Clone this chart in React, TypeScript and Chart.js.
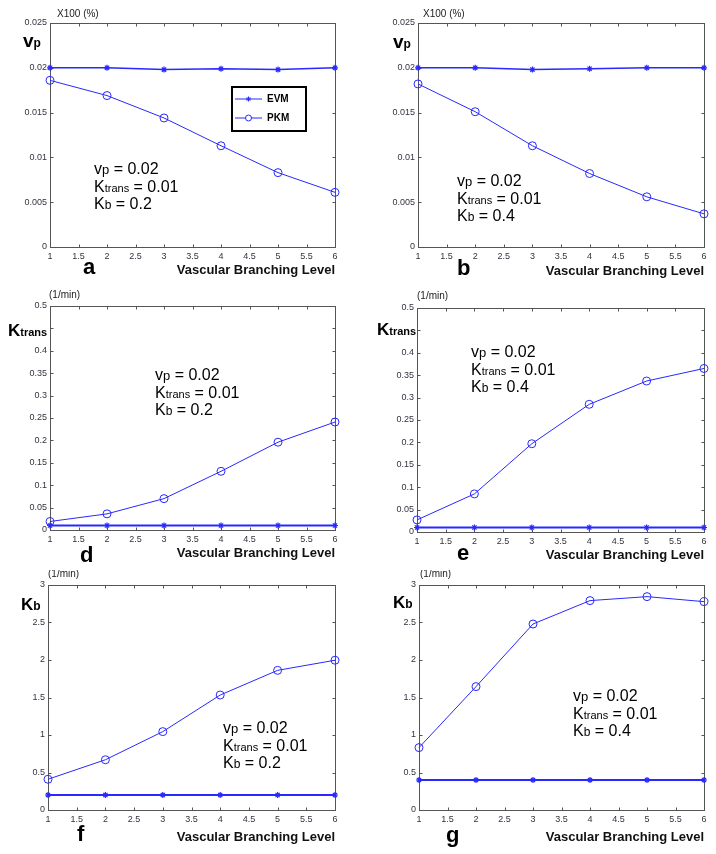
import React, { useEffect, useRef } from "react";
import { Chart, registerables } from "chart.js";

Chart.register(...registerables);

// ---------------- data ----------------
const levels = [1, 2, 3, 4, 5, 6];
const xTickLabels = ["1", "1.5", "2", "2.5", "3", "3.5", "4", "4.5", "5", "5.5", "6"];

const vpTickLabels = ["0", "0.005", "0.01", "0.015", "0.02", "0.025"];
// the 0.45 label is hidden behind the axis name in the original
const ktransTickLabels = ["0", "0.05", "0.1", "0.15", "0.2", "0.25", "0.3", "0.35", "0.4", "", "0.5"];
const kbTickLabels = ["0", "0.5", "1", "1.5", "2", "2.5", "3"];

// panel a (Kb = 0.2) and b (Kb = 0.4): vp
const evmVpA = [0.02, 0.02, 0.0198, 0.0199, 0.0198, 0.02];
const pkmVpA = [0.0186, 0.0169, 0.0144, 0.0113, 0.0083, 0.0061];
const evmVpB = [0.02, 0.02, 0.0198, 0.0199, 0.02, 0.02];
const pkmVpB = [0.0182, 0.0151, 0.0113, 0.0082, 0.0056, 0.0037];

// panel d and e: Ktrans
const evmKtD = [0.01, 0.01, 0.01, 0.01, 0.01, 0.01];
const pkmKtD = [0.019, 0.036, 0.07, 0.131, 0.196, 0.241];
const evmKtE = [0.01, 0.01, 0.01, 0.01, 0.01, 0.01];
const pkmKtE = [0.027, 0.085, 0.197, 0.285, 0.337, 0.365];

// panel f and g: Kb
const evmKbF = [0.2, 0.2, 0.2, 0.2, 0.2, 0.2];
const pkmKbF = [0.41, 0.67, 1.045, 1.533, 1.862, 1.997];
const evmKbG = [0.4, 0.4, 0.4, 0.4, 0.4, 0.4];
const pkmKbG = [0.832, 1.645, 2.48, 2.792, 2.845, 2.778];

const seriesNames = ["EVM", "PKM"];
const xAxisTitle = "Vascular Branching Level";

// ---------------- styling ----------------
const BLUE = "rgb(40,40,255)";
const FRAME = "#555";
const TICK_COLOR = "#333340";
const FONT = "Arial, 'Liberation Sans', Helvetica, sans-serif";

type PanelCfg = {
  key: string;
  evm: number[];
  pkm: number[];
  yMax: number;
  yStep: number;
  yTicks: string[];
  canvas: { l: number; t: number; w: number; h: number };
  area: { l: number; t: number; r: number; b: number };
  titlePad: number;
  unit: { x: number; y: number; text: string };
  ylab: { x: number; y: number; main: string; sub: string };
  letter: { x: number; y: number; text: string };
  note: { x: number; y: number; kb: string };
  legend?: { x: number; y: number; w: number; h: number };
  evmWidth: number;
};

const panels: PanelCfg[] = [
  {
    key: "a", evm: evmVpA, pkm: pkmVpA, yMax: 0.025, yStep: 0.005, yTicks: vpTickLabels,
    canvas: { l: 0, t: 0, w: 358, h: 285 }, area: { l: 50, t: 23, r: 335, b: 247 }, titlePad: 6.7,
    unit: { x: 57, y: 17, text: "X100 (%)" }, ylab: { x: 23, y: 47, main: "v", sub: "p" },
    letter: { x: 83, y: 274, text: "a" }, note: { x: 94, y: 174, kb: "0.2" },
    legend: { x: 232, y: 87, w: 74, h: 44 }, evmWidth: 1.5,
  },
  {
    key: "b", evm: evmVpB, pkm: pkmVpB, yMax: 0.025, yStep: 0.005, yTicks: vpTickLabels,
    canvas: { l: 358, t: 0, w: 358, h: 285 }, area: { l: 418, t: 23, r: 704, b: 247 }, titlePad: 5.7,
    unit: { x: 423, y: 17, text: "X100 (%)" }, ylab: { x: 393, y: 48, main: "v", sub: "p" },
    letter: { x: 457, y: 275, text: "b" }, note: { x: 457, y: 186, kb: "0.4" }, evmWidth: 1.5,
  },
  {
    key: "d", evm: evmKtD, pkm: pkmKtD, yMax: 0.5, yStep: 0.05, yTicks: ktransTickLabels,
    canvas: { l: 0, t: 285, w: 358, h: 285 }, area: { l: 50, t: 306, r: 335, b: 530 }, titlePad: 8.7,
    unit: { x: 49, y: 298, text: "(1/min)" }, ylab: { x: 8, y: 336, main: "K", sub: "trans" },
    letter: { x: 80, y: 562, text: "d" }, note: { x: 155, y: 380, kb: "0.2" }, evmWidth: 1.8,
  },
  {
    key: "e", evm: evmKtE, pkm: pkmKtE, yMax: 0.5, yStep: 0.05, yTicks: ktransTickLabels,
    canvas: { l: 358, t: 285, w: 358, h: 285 }, area: { l: 417, t: 308, r: 704, b: 532 }, titlePad: 6.7,
    unit: { x: 417, y: 299, text: "(1/min)" }, ylab: { x: 377, y: 335, main: "K", sub: "trans" },
    letter: { x: 457, y: 560, text: "e" }, note: { x: 471, y: 357, kb: "0.4" }, evmWidth: 1.8,
  },
  {
    key: "f", evm: evmKbF, pkm: pkmKbF, yMax: 3, yStep: 0.5, yTicks: kbTickLabels,
    canvas: { l: 0, t: 570, w: 358, h: 284 }, area: { l: 48, t: 585, r: 335, b: 810 }, titlePad: 8.7,
    unit: { x: 48, y: 577, text: "(1/min)" }, ylab: { x: 21, y: 610, main: "K", sub: "b" },
    letter: { x: 77, y: 841, text: "f" }, note: { x: 223, y: 733, kb: "0.2" }, evmWidth: 1.8,
  },
  {
    key: "g", evm: evmKbG, pkm: pkmKbG, yMax: 3, yStep: 0.5, yTicks: kbTickLabels,
    canvas: { l: 358, t: 570, w: 358, h: 284 }, area: { l: 419, t: 585, r: 704, b: 810 }, titlePad: 8.7,
    unit: { x: 420, y: 577, text: "(1/min)" }, ylab: { x: 393, y: 608, main: "K", sub: "b" },
    letter: { x: 446, y: 842, text: "g" }, note: { x: 573, y: 701, kb: "0.4" }, evmWidth: 1.8,
  },
];

// ---------------- drawing helpers ----------------
function drawRuns(ctx: CanvasRenderingContext2D, x: number, y: number, runs: { text: string; font: string }[]) {
  let cx = x;
  for (const r of runs) {
    ctx.font = r.font;
    ctx.fillText(r.text, cx, y);
    cx += ctx.measureText(r.text).width;
  }
}

function drawStar(ctx: CanvasRenderingContext2D, x: number, y: number, r: number) {
  ctx.beginPath();
  for (let i = 0; i < 4; i++) {
    const a = (Math.PI / 4) * i;
    ctx.moveTo(x - Math.cos(a) * r, y - Math.sin(a) * r);
    ctx.lineTo(x + Math.cos(a) * r, y + Math.sin(a) * r);
  }
  ctx.stroke();
}

const decorPlugin = {
  id: "decor",
  beforeDatasetsDraw(chart: any) {
    const ctx: CanvasRenderingContext2D = chart.ctx;
    const { left, top, right, bottom } = chart.chartArea;
    const L = Math.round(left) + 0.5, T = Math.round(top) + 0.5, R = Math.round(right) + 0.5, B = Math.round(bottom) + 0.5;
    ctx.save();
    ctx.strokeStyle = FRAME;
    ctx.lineWidth = 1;
    ctx.strokeRect(L, T, R - L, B - T);
    const len = 3;
    ctx.beginPath();
    for (const t of chart.scales.x.ticks) {
      const px = Math.round(chart.scales.x.getPixelForValue(t.value)) + 0.5;
      ctx.moveTo(px, B); ctx.lineTo(px, B - len);
      ctx.moveTo(px, T); ctx.lineTo(px, T + len);
    }
    for (const t of chart.scales.y.ticks) {
      const py = Math.round(chart.scales.y.getPixelForValue(t.value)) + 0.5;
      ctx.moveTo(L, py); ctx.lineTo(L + len, py);
      ctx.moveTo(R, py); ctx.lineTo(R - len, py);
    }
    ctx.stroke();
    ctx.restore();
  },
  afterDatasetsDraw(chart: any, _args: any, opts: any) {
    const p: PanelCfg = opts.panel;
    if (!p) return;
    const ctx: CanvasRenderingContext2D = chart.ctx;
    const ox = p.canvas.l, oy = p.canvas.t;
    ctx.save();
    ctx.textBaseline = "alphabetic";
    ctx.textAlign = "left";
    // unit label
    ctx.font = `10px ${FONT}`;
    ctx.fillStyle = "#222";
    ctx.fillText(p.unit.text, p.unit.x - ox, p.unit.y - oy);
    // y label
    ctx.fillStyle = "#000";
    const subSize = p.ylab.sub === "trans" ? 11 : 12;
    drawRuns(ctx, p.ylab.x - ox, p.ylab.y - oy, [
      { text: p.ylab.main, font: `bold ${p.ylab.main === "v" ? 19 : 17}px ${FONT}` },
      { text: p.ylab.sub, font: `bold ${subSize}px ${FONT}` },
    ]);
    // panel letter
    ctx.font = `bold 22px ${FONT}`;
    ctx.fillText(p.letter.text, p.letter.x - ox, p.letter.y - oy);
    // parameter note
    const nx = p.note.x - ox, ny = p.note.y - oy, ls = 17.5;
    drawRuns(ctx, nx, ny, [
      { text: "v", font: `16px ${FONT}` },
      { text: "p", font: `13px ${FONT}` },
      { text: " = 0.02", font: `16px ${FONT}` },
    ]);
    drawRuns(ctx, nx, ny + ls, [
      { text: "K", font: `16px ${FONT}` },
      { text: "trans", font: `11px ${FONT}` },
      { text: " = 0.01", font: `16px ${FONT}` },
    ]);
    drawRuns(ctx, nx, ny + 2 * ls, [
      { text: "K", font: `16px ${FONT}` },
      { text: "b", font: `12px ${FONT}` },
      { text: " = " + p.note.kb, font: `16px ${FONT}` },
    ]);
    // legend
    if (p.legend) {
      const lg = p.legend;
      const lx = lg.x - ox, ly = lg.y - oy;
      ctx.fillStyle = "#fff";
      ctx.fillRect(lx, ly, lg.w, lg.h);
      ctx.strokeStyle = "#000";
      ctx.lineWidth = 2;
      ctx.strokeRect(lx, ly, lg.w, lg.h);
      const rows = [ly + 12, ly + 31];
      chart.data.datasets.forEach((ds: any, i: number) => {
        const y = rows[i];
        ctx.strokeStyle = ds.borderColor;
        ctx.lineWidth = 1;
        ctx.beginPath();
        ctx.moveTo(lx + 3, y);
        ctx.lineTo(lx + 30, y);
        ctx.stroke();
        const mx = lx + 16.5;
        if (ds.pointStyle === "circle") {
          ctx.fillStyle = "#fff";
          ctx.beginPath();
          ctx.arc(mx, y, 3, 0, Math.PI * 2);
          ctx.fill();
          ctx.stroke();
        } else {
          drawStar(ctx, mx, y, 2.5);
        }
        ctx.fillStyle = "#000";
        ctx.font = `bold 10px ${FONT}`;
        ctx.textBaseline = "middle";
        ctx.fillText(ds.label, lx + 35, y + 0.5);
        ctx.textBaseline = "alphabetic";
      });
    }
    ctx.restore();
  },
};

function Panel({ p }: { p: PanelCfg }) {
  const ref = useRef<HTMLCanvasElement>(null);
  useEffect(() => {
    if (!ref.current) return;
    const yWidth = p.area.l - p.canvas.l;
    const xHeight = p.canvas.t + p.canvas.h - p.area.b;
    const chart = new Chart(ref.current, {
      type: "line",
      data: {
        datasets: [
          {
            label: seriesNames[0],
            data: levels.map((x, i) => ({ x, y: p.evm[i] })),
            borderColor: BLUE,
            backgroundColor: BLUE,
            borderWidth: p.evmWidth,
            pointStyle: "star",
            pointRadius: 3,
            pointBorderWidth: 1.2,
            pointBorderColor: BLUE,
            fill: false,
            tension: 0,
            clip: false as any,
          },
          {
            label: seriesNames[1],
            data: levels.map((x, i) => ({ x, y: p.pkm[i] })),
            borderColor: BLUE,
            backgroundColor: "rgba(0,0,0,0)",
            borderWidth: 1,
            pointStyle: "circle",
            pointRadius: 4,
            pointBorderWidth: 1,
            pointBorderColor: BLUE,
            fill: false,
            tension: 0,
            clip: false as any,
          },
        ],
      },
      options: {
        animation: false,
        responsive: false,
        events: [],
        devicePixelRatio: 1,
        layout: {
          padding: {
            left: 0,
            top: p.area.t - p.canvas.t,
            right: p.canvas.l + p.canvas.w - p.area.r,
            bottom: 0,
          },
        },
        scales: {
          x: {
            type: "linear",
            min: 1,
            max: 6,
            grid: { display: false, drawTicks: false },
            border: { display: false },
            ticks: {
              stepSize: 0.5,
              padding: 4,
              maxRotation: 0,
              autoSkip: false,
              color: TICK_COLOR,
              font: { family: FONT, size: 9 },
              callback: (_v: any, i: number) => xTickLabels[i],
            },
            title: {
              display: true,
              text: xAxisTitle,
              align: "end",
              color: "#111",
              font: { family: FONT, size: 13, weight: "bold" },
              padding: { top: 0, bottom: p.titlePad },
            },
            afterFit: (s: any) => {
              s.height = xHeight;
            },
          },
          y: {
            type: "linear",
            min: 0,
            max: p.yMax,
            grid: { display: false, drawTicks: false },
            border: { display: false },
            ticks: {
              stepSize: p.yStep,
              padding: 3,
              autoSkip: false,
              color: TICK_COLOR,
              font: { family: FONT, size: 9 },
              callback: (_v: any, i: number) => p.yTicks[i],
            },
            afterFit: (s: any) => {
              s.width = yWidth;
            },
          },
        },
        plugins: {
          legend: { display: false },
          tooltip: { enabled: false },
          title: { display: false },
          decor: { panel: p },
        } as any,
      },
      plugins: [decorPlugin as any],
    } as any);
    return () => chart.destroy();
  }, [p]);
  return (
    <canvas
      ref={ref}
      width={p.canvas.w}
      height={p.canvas.h}
      style={{ position: "absolute", left: p.canvas.l, top: p.canvas.t, width: p.canvas.w, height: p.canvas.h }}
    />
  );
}

export default function App() {
  return (
    <div style={{ position: "absolute", left: 0, top: 0, width: 716, height: 854, background: "#fff", overflow: "hidden" }}>
      {panels.map((p) => (
        <Panel key={p.key} p={p} />
      ))}
    </div>
  );
}
